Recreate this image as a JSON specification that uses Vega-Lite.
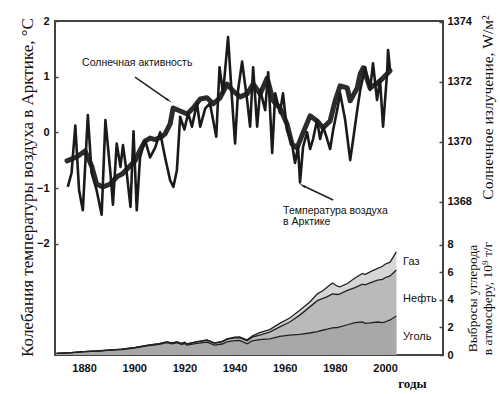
{
  "$schema": "https://vega.github.io/schema/vega-lite/v6.json",
  "width": 388,
  "height": 334,
  "autosize": "none",
  "padding": {"left": 55, "top": 21, "right": 57, "bottom": 39},
  "background": "white",
  "config": {
    "view": {"stroke": "#444", "strokeWidth": 2},
    "axis": {"grid": false, "domain": false, "labelFont": "Liberation Sans", "labelFontSize": 11, "labelFontWeight": "bold", "labelColor": "#111", "tickColor": "#444", "tickWidth": 1.5, "titleColor": "#111", "titleFont": "Liberation Serif", "titleFontWeight": "normal"},
    "text": {"font": "Liberation Sans"}
  },
  "datasets": {
    "temp": [
      {"year": 1873.5, "temp": -0.98}, {"year": 1875, "temp": -0.73}, {"year": 1876.5, "temp": 0.12}, {"year": 1878, "temp": -1.04},
      {"year": 1879.5, "temp": -1.4}, {"year": 1881.5, "temp": 0.31}, {"year": 1883, "temp": -0.73}, {"year": 1885, "temp": -1.04},
      {"year": 1887, "temp": -1.48}, {"year": 1888.5, "temp": 0.22}, {"year": 1890.5, "temp": -0.73}, {"year": 1891.5, "temp": -1.3},
      {"year": 1893, "temp": -0.2}, {"year": 1894.5, "temp": -0.62}, {"year": 1895.5, "temp": -0.23}, {"year": 1897, "temp": -0.73},
      {"year": 1898.5, "temp": -1.34}, {"year": 1899.7, "temp": 0.02}, {"year": 1901, "temp": -1.4}, {"year": 1902.3, "temp": -0.45},
      {"year": 1904.3, "temp": -0.14}, {"year": 1906.3, "temp": -0.45}, {"year": 1908.3, "temp": -0.28}, {"year": 1910.3, "temp": 0.0},
      {"year": 1912.3, "temp": -0.45}, {"year": 1914.3, "temp": -0.86}, {"year": 1915.6, "temp": -0.98}, {"year": 1917, "temp": -0.68},
      {"year": 1918.3, "temp": 0.28}, {"year": 1920, "temp": 0.05}, {"year": 1921.5, "temp": 0.35}, {"year": 1923, "temp": 0.1},
      {"year": 1925, "temp": 0.52}, {"year": 1926.3, "temp": 0.1}, {"year": 1928.3, "temp": 0.43}, {"year": 1930.2, "temp": 0.52},
      {"year": 1932.7, "temp": -0.08}, {"year": 1934, "temp": 1.17}, {"year": 1935.4, "temp": 0.7}, {"year": 1937.4, "temp": 1.71},
      {"year": 1939, "temp": 0.58}, {"year": 1940.2, "temp": -0.2}, {"year": 1941.4, "temp": 0.76}, {"year": 1943, "temp": 1.27},
      {"year": 1945, "temp": 0.58}, {"year": 1946.2, "temp": 0.1}, {"year": 1947.4, "temp": 1.17}, {"year": 1949, "temp": 0.1},
      {"year": 1950.2, "temp": 0.76}, {"year": 1952.2, "temp": 0.4}, {"year": 1953.4, "temp": 1.08}, {"year": 1955, "temp": -0.37},
      {"year": 1956.2, "temp": 0.7}, {"year": 1958.1, "temp": 0.35}, {"year": 1959.3, "temp": 0.7}, {"year": 1960.9, "temp": 0.04},
      {"year": 1962.9, "temp": -0.2}, {"year": 1964.1, "temp": -0.55}, {"year": 1965.3, "temp": -0.26}, {"year": 1966.1, "temp": -0.9},
      {"year": 1967.3, "temp": -0.26}, {"year": 1968.9, "temp": 0.0}, {"year": 1970.1, "temp": -0.3}, {"year": 1971.3, "temp": -0.12},
      {"year": 1972.9, "temp": 0.22}, {"year": 1974.1, "temp": -0.12}, {"year": 1975.3, "temp": 0.1}, {"year": 1976.9, "temp": -0.12},
      {"year": 1978.1, "temp": -0.3}, {"year": 1979.3, "temp": 0.04}, {"year": 1980.9, "temp": 0.4}, {"year": 1982.1, "temp": 0.7},
      {"year": 1984.1, "temp": 0.22}, {"year": 1986.1, "temp": -0.5}, {"year": 1987.3, "temp": -0.12}, {"year": 1988.9, "temp": 0.4},
      {"year": 1990.1, "temp": 0.76}, {"year": 1992.1, "temp": 1.17}, {"year": 1994, "temp": 0.76}, {"year": 1995.2, "temp": 1.24},
      {"year": 1996.8, "temp": 0.58}, {"year": 1998, "temp": 0.94}, {"year": 1999.2, "temp": 0.1}, {"year": 2000.8, "temp": 1.06},
      {"year": 2001.2, "temp": 1.48}, {"year": 2002, "temp": 1.12}
    ],
    "solar": [
      {"year": 1873.2, "tsi": 1369.37}, {"year": 1877, "tsi": 1369.5}, {"year": 1880.4, "tsi": 1369.7}, {"year": 1883, "tsi": 1369.2},
      {"year": 1885, "tsi": 1368.6}, {"year": 1887.5, "tsi": 1368.5}, {"year": 1890.4, "tsi": 1368.6}, {"year": 1893.2, "tsi": 1368.85},
      {"year": 1895.2, "tsi": 1368.93}, {"year": 1898.3, "tsi": 1369.2}, {"year": 1900.3, "tsi": 1369.37}, {"year": 1902.5, "tsi": 1369.75},
      {"year": 1904.3, "tsi": 1370.03}, {"year": 1906.3, "tsi": 1370.13}, {"year": 1908.3, "tsi": 1370.08}, {"year": 1910.5, "tsi": 1370.15},
      {"year": 1912.3, "tsi": 1370.27}, {"year": 1914.3, "tsi": 1370.6}, {"year": 1915.5, "tsi": 1371.13}, {"year": 1918.3, "tsi": 1371.03},
      {"year": 1921.1, "tsi": 1370.93}, {"year": 1923.5, "tsi": 1371.13}, {"year": 1926.3, "tsi": 1371.43}, {"year": 1929, "tsi": 1371.47},
      {"year": 1931.4, "tsi": 1371.27}, {"year": 1934.2, "tsi": 1371.47}, {"year": 1937, "tsi": 1371.93}, {"year": 1939.4, "tsi": 1371.7},
      {"year": 1942.2, "tsi": 1371.5}, {"year": 1945, "tsi": 1371.6}, {"year": 1947.4, "tsi": 1371.93}, {"year": 1950.2, "tsi": 1371.6},
      {"year": 1953, "tsi": 1372.13}, {"year": 1955.4, "tsi": 1371.37}, {"year": 1958.1, "tsi": 1371.13}, {"year": 1960.9, "tsi": 1370.6},
      {"year": 1962.9, "tsi": 1369.93}, {"year": 1964.9, "tsi": 1369.8}, {"year": 1967.3, "tsi": 1370.3}, {"year": 1970.1, "tsi": 1370.87},
      {"year": 1972.9, "tsi": 1370.7}, {"year": 1975.3, "tsi": 1370.47}, {"year": 1978.1, "tsi": 1370.7}, {"year": 1980.1, "tsi": 1371.37},
      {"year": 1982.1, "tsi": 1371.87}, {"year": 1984.9, "tsi": 1371.8}, {"year": 1986.1, "tsi": 1371.37}, {"year": 1988.9, "tsi": 1371.8},
      {"year": 1990.1, "tsi": 1372.27}, {"year": 1991.3, "tsi": 1372.47}, {"year": 1994, "tsi": 1371.8}, {"year": 1996.8, "tsi": 1371.95},
      {"year": 1999.2, "tsi": 1372.13}, {"year": 2002, "tsi": 1372.37}
    ],
    "carbon": [
      {"year": 1869, "coal": 0.12, "coalOil": 0.12, "total": 0.12}, {"year": 1875, "coal": 0.18, "coalOil": 0.18, "total": 0.18},
      {"year": 1880, "coal": 0.24, "coalOil": 0.25, "total": 0.25}, {"year": 1885, "coal": 0.28, "coalOil": 0.29, "total": 0.29},
      {"year": 1890, "coal": 0.35, "coalOil": 0.36, "total": 0.36}, {"year": 1895, "coal": 0.4, "coalOil": 0.42, "total": 0.42},
      {"year": 1900, "coal": 0.51, "coalOil": 0.53, "total": 0.53}, {"year": 1905, "coal": 0.66, "coalOil": 0.69, "total": 0.7},
      {"year": 1910, "coal": 0.78, "coalOil": 0.82, "total": 0.83}, {"year": 1913, "coal": 0.9, "coalOil": 0.95, "total": 0.96},
      {"year": 1915, "coal": 0.82, "coalOil": 0.87, "total": 0.88}, {"year": 1917, "coal": 0.89, "coalOil": 0.95, "total": 0.96},
      {"year": 1919, "coal": 0.76, "coalOil": 0.83, "total": 0.84}, {"year": 1920, "coal": 0.84, "coalOil": 0.92, "total": 0.93},
      {"year": 1921, "coal": 0.72, "coalOil": 0.8, "total": 0.81}, {"year": 1925, "coal": 0.84, "coalOil": 0.95, "total": 0.97},
      {"year": 1929, "coal": 0.93, "coalOil": 1.07, "total": 1.1}, {"year": 1932, "coal": 0.72, "coalOil": 0.85, "total": 0.88},
      {"year": 1935, "coal": 0.8, "coalOil": 0.95, "total": 0.99}, {"year": 1937, "coal": 0.96, "coalOil": 1.14, "total": 1.18},
      {"year": 1940, "coal": 1.05, "coalOil": 1.24, "total": 1.29}, {"year": 1942, "coal": 1.07, "coalOil": 1.27, "total": 1.32},
      {"year": 1945, "coal": 0.82, "coalOil": 1.04, "total": 1.1}, {"year": 1947, "coal": 1.02, "coalOil": 1.3, "total": 1.37},
      {"year": 1950, "coal": 1.12, "coalOil": 1.45, "total": 1.62}, {"year": 1954, "coal": 1.18, "coalOil": 1.67, "total": 1.85},
      {"year": 1958, "coal": 1.35, "coalOil": 2.05, "total": 2.3}, {"year": 1962, "coal": 1.45, "coalOil": 2.4, "total": 2.69},
      {"year": 1966, "coal": 1.5, "coalOil": 2.9, "total": 3.25}, {"year": 1970, "coal": 1.6, "coalOil": 3.5, "total": 3.85},
      {"year": 1973, "coal": 1.7, "coalOil": 3.95, "total": 4.45}, {"year": 1975, "coal": 1.8, "coalOil": 4.1, "total": 4.65},
      {"year": 1977, "coal": 1.88, "coalOil": 4.25, "total": 4.95}, {"year": 1979, "coal": 1.98, "coalOil": 4.45, "total": 5.24},
      {"year": 1981, "coal": 2.0, "coalOil": 4.4, "total": 5.0}, {"year": 1982, "coal": 2.04, "coalOil": 4.45, "total": 4.95},
      {"year": 1985, "coal": 2.2, "coalOil": 4.7, "total": 5.2}, {"year": 1988, "coal": 2.35, "coalOil": 4.9, "total": 5.6},
      {"year": 1991, "coal": 2.4, "coalOil": 5.15, "total": 5.93}, {"year": 1992, "coal": 2.3, "coalOil": 5.1, "total": 5.85},
      {"year": 1994, "coal": 2.33, "coalOil": 5.25, "total": 6.05}, {"year": 1997, "coal": 2.4, "coalOil": 5.45, "total": 6.3},
      {"year": 1999, "coal": 2.35, "coalOil": 5.5, "total": 6.45}, {"year": 2000, "coal": 2.4, "coalOil": 5.62, "total": 6.6},
      {"year": 2002, "coal": 2.55, "coalOil": 5.75, "total": 6.75}, {"year": 2004.5, "coal": 2.84, "coalOil": 6.18, "total": 7.5}
    ],
    "fuels": [
      {"year": 2007.2, "carbon": 6.76, "label": "Газ"},
      {"year": 2007.2, "carbon": 4.07, "label": "Нефть"},
      {"year": 2007.2, "carbon": 1.31, "label": "Уголь"}
    ],
    "notes": [
      {"year": 1879.2, "temp": 1.245, "label": "Солнечная активность"},
      {"year": 1959.35, "temp": -1.413, "label": "Температура воздуха"},
      {"year": 1959.35, "temp": -1.611, "label": "в Арктике"}
    ],
    "arrows": [
      {"arrow": "solar", "year": 1900.3, "temp": 0.99, "year2": 1913.5, "temp2": 0.58},
      {"arrow": "temp", "year": 1979.3, "temp": -1.215, "year2": 1967.3, "temp2": -0.96}
    ],
    "heads": [
      {"arrow": "solar", "year": 1913.5, "temp": 0.58},
      {"arrow": "temp", "year": 1967.3, "temp": -0.96}
    ]
  },
  "encoding": {
    "x": {"field": "year", "type": "quantitative", "scale": {"domain": [1868.4, 2023.1], "nice": false, "zero": false},
      "axis": {"values": [1880, 1900, 1920, 1940, 1960, 1980, 2000], "format": "d", "title": "годы", "titleFont": "Liberation Serif", "titleFontSize": 13, "titleFontWeight": "bold", "titleX": 357, "titleY": 28, "titleAlign": "center", "titleBaseline": "middle", "titleAngle": 0, "tickSize": -3, "labelPadding": 10, "labelFlush": false, "labelOverlap": false}}
  },
  "layer": [
    {
      "data": {"name": "carbon"},
      "mark": {"type": "area", "color": "#d6d6d6"},
      "encoding": {
        "y": {"field": "total", "type": "quantitative", "scale": {"domain": [0, 24.29], "nice": false, "zero": false},
          "axis": {"orient": "right", "values": [0, 2, 4, 6, 8], "format": "d", "tickSize": -4, "labelPadding": 8, "title": ["Выбросы углерода", "в атмосферу, 10⁹ т/г"], "titleFontSize": 13.5, "titleLineHeight": 15, "titleAngle": -90, "titleX": 29, "titleY": 277, "titleAlign": "center", "titleBaseline": "middle"}}
      }
    },
    {
      "data": {"name": "carbon"},
      "mark": {"type": "area", "color": "#bababa"},
      "encoding": {
        "y": {"field": "coalOil", "type": "quantitative", "scale": {"domain": [0, 24.29], "nice": false, "zero": false}, "axis": null}
      }
    },
    {
      "data": {"name": "carbon"},
      "mark": {"type": "area", "color": "#a8a8a8"},
      "encoding": {
        "y": {"field": "coal", "type": "quantitative", "scale": {"domain": [0, 24.29], "nice": false, "zero": false}, "axis": null}
      }
    },
    {
      "data": {"name": "carbon"},
      "mark": {"type": "line", "color": "#222", "strokeWidth": 1.3},
      "encoding": {
        "y": {"field": "total", "type": "quantitative", "scale": {"domain": [0, 24.29], "nice": false, "zero": false}, "axis": null}
      }
    },
    {
      "data": {"name": "carbon"},
      "mark": {"type": "line", "color": "#222", "strokeWidth": 1.3},
      "encoding": {
        "y": {"field": "coalOil", "type": "quantitative", "scale": {"domain": [0, 24.29], "nice": false, "zero": false}, "axis": null}
      }
    },
    {
      "data": {"name": "carbon"},
      "mark": {"type": "line", "color": "#222", "strokeWidth": 1.3},
      "encoding": {
        "y": {"field": "coal", "type": "quantitative", "scale": {"domain": [0, 24.29], "nice": false, "zero": false}, "axis": null}
      }
    },
    {
      "data": {"name": "fuels"},
      "mark": {"type": "text", "align": "left", "baseline": "middle", "fontSize": 11, "color": "#111"},
      "encoding": {
        "y": {"field": "carbon", "type": "quantitative", "scale": {"domain": [0, 24.29], "nice": false, "zero": false}, "axis": null},
        "text": {"field": "label"}
      }
    },
    {
      "data": {"name": "solar"},
      "mark": {"type": "line", "color": "#2b2b2b", "strokeWidth": 5, "strokeJoin": "round", "strokeCap": "round"},
      "encoding": {
        "y": {"field": "tsi", "type": "quantitative", "scale": {"domain": [1362.9, 1374.03], "nice": false, "zero": false},
          "axis": {"orient": "right", "values": [1368, 1370, 1372, 1374], "format": "d", "tickSize": -4, "labelPadding": 8, "title": "Солнечное излучение, W/м²", "titleFontSize": 15.5, "titleAngle": -90, "titleX": 44, "titleY": 86, "titleAlign": "center", "titleBaseline": "middle"}}
      }
    },
    {
      "data": {"name": "temp"},
      "mark": {"type": "line", "color": "#1a1a1a", "strokeWidth": 2.6, "strokeJoin": "round"},
      "encoding": {
        "y": {"field": "temp", "type": "quantitative", "scale": {"domain": [-4, 2], "nice": false, "zero": false},
          "axis": {"orient": "left", "values": [-2, -1, 0, 1, 2], "format": "d", "tickSize": -3, "labelPadding": 9, "title": "Колебания температуры воздуха в Арктике, °С", "titleFontSize": 17, "titleAngle": -90, "titleX": -28, "titleY": 166, "titleAlign": "center", "titleBaseline": "middle"}}
      }
    },
    {
      "data": {"name": "notes"},
      "mark": {"type": "text", "align": "left", "baseline": "middle", "fontSize": 10.5, "color": "#111"},
      "encoding": {
        "y": {"field": "temp", "type": "quantitative", "scale": {"domain": [-4, 2], "nice": false, "zero": false}, "axis": null},
        "text": {"field": "label"}
      }
    },
    {
      "data": {"name": "arrows"},
      "mark": {"type": "rule", "color": "#222", "strokeWidth": 1.5},
      "encoding": {
        "y": {"field": "temp", "type": "quantitative", "scale": {"domain": [-4, 2], "nice": false, "zero": false}, "axis": null},
        "x2": {"field": "year2"},
        "y2": {"field": "temp2"}
      }
    },
    {
      "data": {"name": "heads"},
      "transform": [{"filter": "datum.arrow == 'solar'"}],
      "mark": {"type": "point", "shape": "wedge", "filled": true, "size": 70, "angle": 125, "color": "#222", "opacity": 1},
      "encoding": {
        "y": {"field": "temp", "type": "quantitative", "scale": {"domain": [-4, 2], "nice": false, "zero": false}, "axis": null}
      }
    },
    {
      "data": {"name": "heads"},
      "transform": [{"filter": "datum.arrow == 'temp'"}],
      "mark": {"type": "point", "shape": "wedge", "filled": true, "size": 70, "angle": 301, "color": "#222", "opacity": 1},
      "encoding": {
        "y": {"field": "temp", "type": "quantitative", "scale": {"domain": [-4, 2], "nice": false, "zero": false}, "axis": null}
      }
    }
  ],
  "resolve": {"scale": {"y": "independent"}, "axis": {"y": "independent"}}
}
